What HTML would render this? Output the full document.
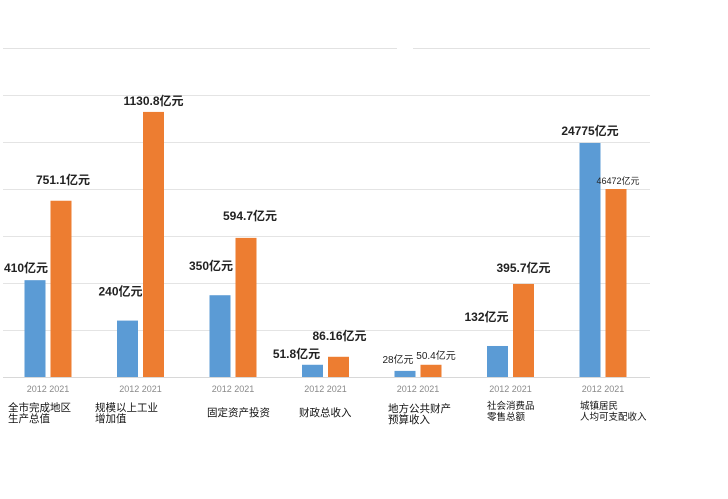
<!DOCTYPE html>
<html><head><meta charset="utf-8"><style>
html,body{margin:0;padding:0;background:#fff;}
svg{display:block;font-family:"Liberation Sans","Noto Sans CJK SC",sans-serif;}
</style></head><body>
<svg id="chart" width="728" height="499" viewBox="0 0 728 499" xmlns="http://www.w3.org/2000/svg">
<line x1="3" y1="48.5" x2="397" y2="48.5" stroke="#e2e2e2" stroke-width="1"/>
<line x1="413" y1="48.5" x2="650" y2="48.5" stroke="#e2e2e2" stroke-width="1"/>
<g id="grid"></g>
<g id="bars"></g>
<g id="labels"></g>
<g id="cats"></g>
</svg>
<script>
const categories = [["全市完成地区","生产总值"],["规模以上工业","增加值"],["固定资产投资"],["财政总收入"],["地方公共财产","预算收入"],["社会消费品","零售总额"],["城镇居民","人均可支配收入"]];
const years = ["2012","2021"];
// bar heights in grid units (chart is an illustrative, non-proportional infographic)
const series2012 = [2.06, 1.2, 1.74, 0.26, 0.13, 0.66, 4.98];
const series2021 = [3.75, 5.64, 2.96, 0.43, 0.26, 1.98, 4.0];
const labels2012 = ["410亿元","240亿元","350亿元","51.8亿元","28亿元","132亿元","24775亿元"];
const labels2021 = ["751.1亿元","1130.8亿元","594.7亿元","86.16亿元","50.4亿元","395.7亿元","46472亿元"];
const gridTicks = [0,1,2,3,4,5,6];

const NS="http://www.w3.org/2000/svg";
const baseY=377, unit=47, x0=48, step=92.5, bw=21, gap=5;
const yScale=v=>baseY-v*unit;
const xCenter=i=>x0+i*step;
function mk(tag,attrs,parent){const e=document.createElementNS(NS,tag);for(const k in attrs)e.setAttribute(k,attrs[k]);parent.appendChild(e);return e;}
const grid=document.getElementById('grid'),bars=document.getElementById('bars'),labels=document.getElementById('labels'),cats=document.getElementById('cats');
gridTicks.forEach(t=>{
  const l=mk('line',{x1:3,x2:650,y1:yScale(t)+0.5,y2:yScale(t)+0.5,stroke:t===0?'#d8d8d8':'#e4e4e4','stroke-width':1},grid);
  
  
});
categories.forEach((c,i)=>{
  const cx=xCenter(i);
  const small=(i===4);
  [[series2012,'#5b9bd5',cx-gap/2-bw,labels2012],[series2021,'#ed7d31',cx+gap/2,labels2021]].forEach((s,j)=>{
    const v=s[0][i];
    const r=mk('rect',{x:s[2],y:yScale(v),width:bw,height:v*unit,fill:s[1]},bars);
    
    
    let fs=12, lx=s[2]+bw/2, anchor='middle';
    if(i===4){fs=10;}
    if(i===6&&j===1){fs=9;lx=s[2]+bw/2+2;}
    if(j===0&&i!==6&&i!==4) lx=s[2]+bw/2-3;
    if(j===0&&i===0) lx=s[2]+bw/2-9;
    if(j===1&&i===0) lx=s[2]+bw/2+2;
    if(j===1&&i===2) lx=s[2]+bw/2+4;
    if(j===1&&i===3) lx=s[2]+bw/2+1;
    if(j===0&&i===3) lx=s[2]+bw/2-16;
    if(j===0&&i===4) lx=s[2]+bw/2-7;
    if(j===1&&i===4) lx=s[2]+bw/2+5;
    if(j===0&&i===5) lx=s[2]+bw/2-11;
    if(j===1&&i===5) lx=s[2]+bw/2;
    if(j===0&&i===1) lx=s[2]+bw/2-7;
    if(j===0&&i===2) lx=s[2]+bw/2-9;
    let off = (j===0 && (i===1||i===2||i===5)) ? 25 : (i===4?8:14);
    if(i===0&&j===0) off=8;
    if(i===0&&j===1) off=17;
    if(i===2&&j===1) off=18;
    if(i===3&&j===0) off=7;
    if(i===3&&j===1) off=17;
    if(i===5&&j===1) off=12;
    if(i===6&&j===0) off=8;
    if(i===6&&j===1) off=5;
    if(i===4&&j===1) off=6;
    if(i===1&&j===1) off=7;
    const t=mk('text',{x:lx,y:yScale(v)-off,'font-size':fs,fill:'#222','text-anchor':anchor,'font-weight':fs>=12?'bold':'normal'},labels);
    t.textContent=s[3][i];
    
    
  });
  const yl=mk('text',{x:cx,y:392,'font-size':9,fill:'#8a8a8a','text-anchor':'middle'},cats);
  yl.textContent=years.join(' ');
  
  
  const lxs=[8,95,207,299,388,487,580];
  const ly=c.length===1?416:(i===4?412:(i>=5?409:411));
  c.forEach((line,k)=>{
    const ct=mk('text',{x:lxs[i],y:ly+k*11,'font-size':i>=5?9.5:10.5,fill:'#111'},cats);
    ct.textContent=line;
    
    
  });
});
</script>
</body></html>
